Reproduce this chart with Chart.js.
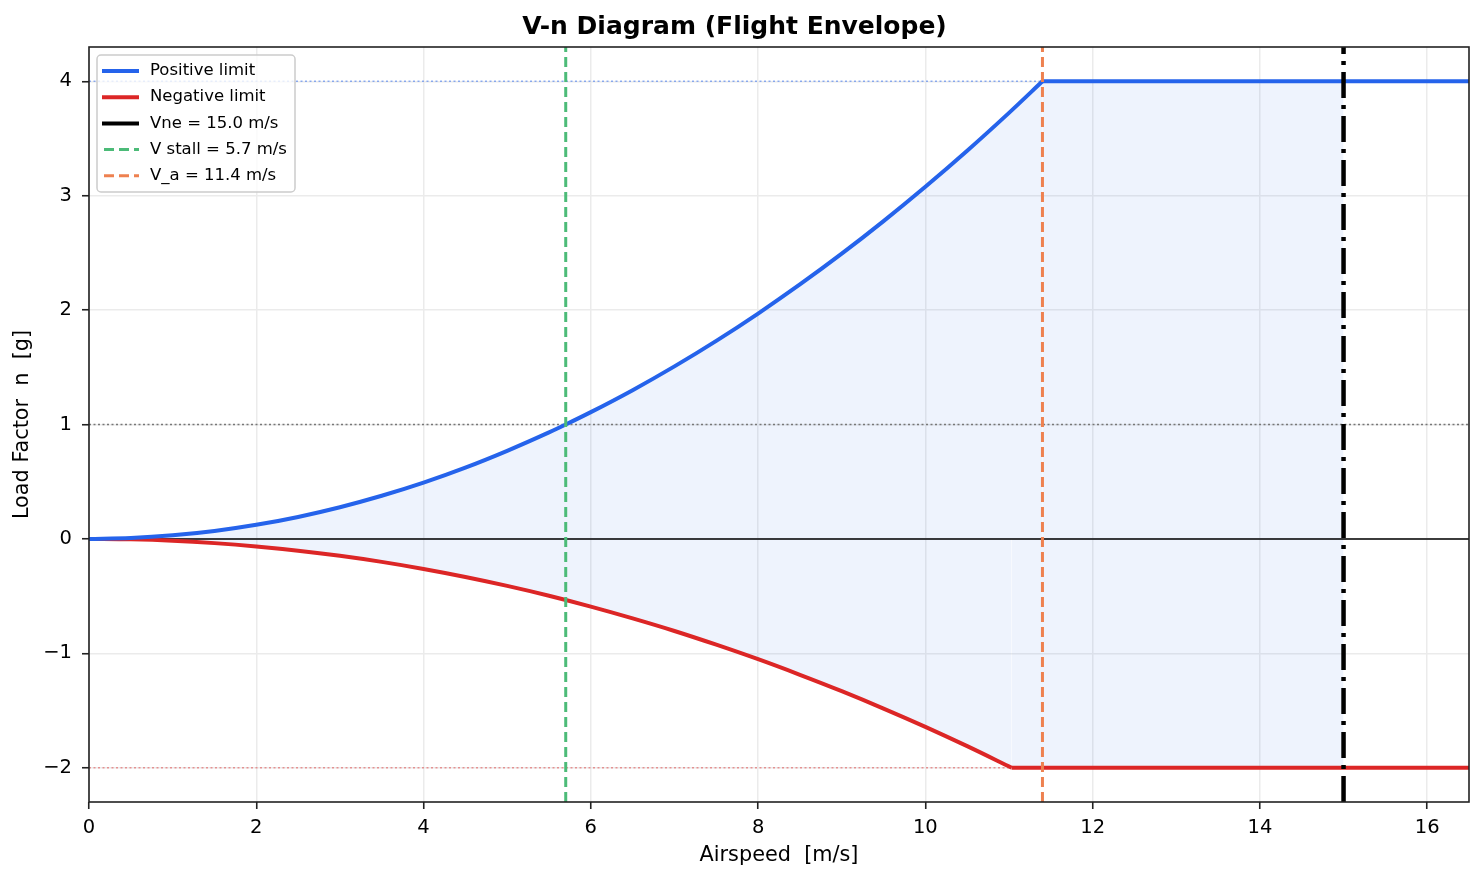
<!DOCTYPE html>
<html>
<head>
<meta charset="utf-8">
<title>V-n Diagram</title>
<script src="https://cdn.jsdelivr.net/npm/chart.js@4.4.1/dist/chart.umd.min.js"></script>
<style>
  html, body { margin: 0; padding: 0; background: #fff; }
  #wrap { width: 1484px; height: 881px; }
</style>
</head>
<body>
<div id="wrap"><canvas id="vn" width="1484" height="881"></canvas></div>
<script>
// ── Data ──────────────────────────────────────────────
const POS_V = [0, 0.5, 1, 1.5, 2, 2.5, 3, 3.5, 4, 4.5, 5, 5.5, 5.7, 6, 6.5, 7, 7.5, 8, 8.5, 9, 9.5, 10, 10.5, 11, 11.4, 16.5];
const POS_N = [0, 0.008, 0.031, 0.069, 0.123, 0.192, 0.277, 0.377, 0.492, 0.623, 0.770, 0.931, 1.0, 1.108, 1.300, 1.508, 1.731, 1.970, 2.224, 2.493, 2.778, 3.078, 3.393, 3.724, 4.0, 4.0];

const NEG_V = [0, 0.5, 1, 1.5, 2, 2.5, 3, 3.5, 4, 4.5, 5, 5.5, 6, 6.5, 7, 7.5, 8, 8.5, 9, 9.5, 10, 10.5, 11.03, 16.5];
const NEG_N = [0, -0.004, -0.016, -0.037, -0.066, -0.103, -0.148, -0.201, -0.263, -0.333, -0.411, -0.497, -0.592, -0.695, -0.805, -0.925, -1.052, -1.188, -1.331, -1.483, -1.643, -1.812, -2.0, -2.0];

const V_NE    = 15.0;
const V_STALL = 5.7;
const V_A     = 11.4;
const V_NEG_KNEE = 11.03;
const N_POS_LIMIT = 4;
const N_NEG_LIMIT = -2;

const X_TICKS = [0, 2, 4, 6, 8, 10, 12, 14, 16];
const Y_TICKS = [-2, -1, 0, 1, 2, 3, 4];
const X_RANGE = [0, 16.5];
const Y_RANGE = [-2.3, 4.3];

const LEGEND_LABELS = ['Positive limit', 'Negative limit', 'Vne = 15.0 m/s', 'V stall = 5.7 m/s', 'V_a = 11.4 m/s'];

// ── Styles ────────────────────────────────────────────
const COLORS = {
  pos:    '#2563EB',
  neg:    '#DC2626',
  vne:    '#000000',
  stall:  '#4CBB78',
  va:     '#EE8150',
  fill:   'rgba(37,99,235,0.08)',
  grid:   '#EBEBEB',
  axis:   '#222222',
};
const FONT = 'DejaVu Sans';

const pts = (xs, ys) => xs.map((x, i) => ({ x, y: ys[i] }));
const vLine = x => [{ x, y: Y_RANGE[0] }, { x, y: Y_RANGE[1] }];
const hLine = y => [{ x: X_RANGE[0], y }, { x: X_RANGE[1], y }];
// split a limit curve at its knee: the parabola part and the flat part
const curvePart = (xs, ys, knee) => pts(xs, ys).filter(d => d.x <= knee);
const flatPart  = (xs, ys, knee, end) => {
  const p = pts(xs, ys).filter(d => d.x >= knee);
  return end === undefined ? p : [p[0], { x: end, y: p[0].y }];
};

function line(data, color, width, dash, smooth) {
  return {
    data, borderColor: color, borderWidth: width, borderDash: dash || [],
    showLine: true, pointRadius: 0, fill: false, tension: 0,
    cubicInterpolationMode: smooth ? 'monotone' : 'default',
    borderCapStyle: 'butt', borderJoinStyle: 'round',
  };
}
function shade(data, smooth) {
  return {
    data, showLine: true, borderWidth: 0, pointRadius: 0, fill: 'origin',
    backgroundColor: COLORS.fill, borderColor: 'rgba(0,0,0,0)',
    cubicInterpolationMode: smooth ? 'monotone' : 'default',
  };
}

// ── Frame + legend drawn inside the plot ─────────────
const framePlugin = {
  id: 'frame',
  afterDraw(chart) {
    const { ctx, chartArea: a } = chart;
    ctx.save();
    ctx.strokeStyle = COLORS.axis;
    ctx.lineWidth = 1.6;
    ctx.strokeRect(a.left, a.top, a.right - a.left, a.bottom - a.top);

    // legend box
    const styles = [
      { c: COLORS.pos, w: 4, d: [] },
      { c: COLORS.neg, w: 4, d: [] },
      { c: COLORS.vne, w: 4, d: [] },
      { c: COLORS.stall, w: 3, d: [10, 5] },
      { c: COLORS.va, w: 3, d: [10, 5] },
    ];
    const bx = a.left + 8, by = a.top + 8, bw = 198, bh = 137;
    ctx.fillStyle = 'rgba(255,255,255,0.8)';
    ctx.strokeStyle = '#CCCCCC';
    ctx.lineWidth = 1.5;
    ctx.beginPath();
    ctx.roundRect(bx, by, bw, bh, 4);
    ctx.fill();
    ctx.stroke();
    ctx.font = `16.5px "${FONT}"`;
    ctx.textBaseline = 'middle';
    ctx.fillStyle = '#000';
    LEGEND_LABELS.forEach((lab, i) => {
      const y = by + 16 + i * 26.2;
      const s = styles[i];
      ctx.strokeStyle = s.c;
      ctx.lineWidth = s.w;
      ctx.setLineDash(s.d);
      ctx.beginPath();
      ctx.moveTo(bx + (s.d.length ? 7 : 5), y);
      ctx.lineTo(bx + 42, y);
      ctx.stroke();
      ctx.setLineDash([]);
      ctx.fillText(lab, bx + 53, y);
    });
    ctx.restore();
  },
};

const fmtTick = v => (v < 0 ? '\u2212' + Math.abs(v) : String(v));

new Chart(document.getElementById('vn'), {
  type: 'scatter',
  data: {
    datasets: [
      line(vLine(V_NE), COLORS.vne, 4.5, [26, 7, 4, 7]),
      line(vLine(V_STALL), COLORS.stall, 3, [10, 5]),
      line(vLine(V_A), COLORS.va, 3, [10, 5]),
      line(curvePart(POS_V, POS_N, V_A), COLORS.pos, 4, null, true),
      line(flatPart(POS_V, POS_N, V_A), COLORS.pos, 4),
      line(curvePart(NEG_V, NEG_N, V_NEG_KNEE), COLORS.neg, 4, null, true),
      line(flatPart(NEG_V, NEG_N, V_NEG_KNEE), COLORS.neg, 4),
      line(hLine(0), '#000000', 1.5),
      line(hLine(1), '#777777', 1.5, [2, 2.5]),
      line(hLine(N_POS_LIMIT), 'rgba(37,99,235,0.5)', 1.5, [2, 2.5]),
      line(hLine(N_NEG_LIMIT), 'rgba(220,38,38,0.45)', 1.5, [2, 2.5]),
      // envelope shading, stops at Vne
      shade(curvePart(POS_V, POS_N, V_A), true),
      shade(flatPart(POS_V, POS_N, V_A, V_NE)),
      shade(curvePart(NEG_V, NEG_N, V_NEG_KNEE), true),
      shade(flatPart(NEG_V, NEG_N, V_NEG_KNEE, V_NE)),
    ],
  },
  options: {
    responsive: false,
    devicePixelRatio: 1,
    animation: false,
    layout: { padding: { left: 0, right: 15, top: 0, bottom: 0 } },
    plugins: {
      legend:  { display: false },
      tooltip: { enabled: false },
      title: {
        display: true,
        text: 'V-n Diagram (Flight Envelope)',
        color: '#000',
        font: { family: FONT, size: 25, weight: 'bold' },
        padding: { top: 12, bottom: 5 },
      },
    },
    scales: {
      x: {
        type: 'linear',
        min: X_RANGE[0], max: X_RANGE[1],
        afterBuildTicks: s => { s.ticks = X_TICKS.map(value => ({ value })); },
        afterFit: s => { s.height = 79; },
        grid: { color: COLORS.grid, lineWidth: 1.5, tickColor: COLORS.axis, tickLength: 7, tickWidth: 1.6 },
        border: { display: false },
        ticks: { color: '#000', font: { family: FONT, size: 19.5 }, padding: 7, maxRotation: 0, callback: fmtTick },
        title: { display: true, text: 'Airspeed  [m/s]', color: '#000', font: { family: FONT, size: 20.8 }, padding: { top: 4, bottom: 13 } },
      },
      y: {
        type: 'linear',
        min: Y_RANGE[0], max: Y_RANGE[1],
        afterBuildTicks: s => { s.ticks = Y_TICKS.map(value => ({ value })); },
        afterFit: s => { s.width = 89; },
        grid: { color: COLORS.grid, lineWidth: 1.5, tickColor: COLORS.axis, tickLength: 7, tickWidth: 1.6 },
        border: { display: false },
        ticks: { color: '#000', font: { family: FONT, size: 19.5 }, padding: 10, callback: fmtTick },
        title: { display: true, text: 'Load Factor  n  [g]', color: '#000', font: { family: FONT, size: 20.8 }, padding: { top: 10, bottom: 4 } },
      },
    },
  },
  plugins: [framePlugin],
});
</script>
</body>
</html>
